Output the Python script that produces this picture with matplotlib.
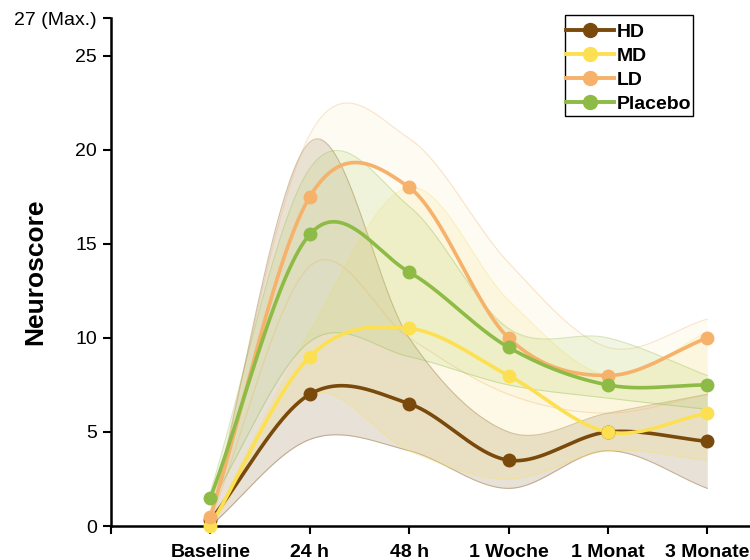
import numpy as np
import matplotlib
matplotlib.use("Agg")
import matplotlib.pyplot as plt
from matplotlib.patches import Rectangle

plt.rcParams['font.family'] = ['Liberation Sans', 'DejaVu Sans']

categories = ["Baseline", "24 h", "48 h", "1 Woche", "1 Monat", "3 Monate"]
series_names = ["HD", "MD", "LD", "Placebo"]
colors = ["#7a4a0c", "#fde052", "#f6b16b", "#8dbb45"]
fill_colors = ["#8a6a3a", "#f5dc5a", "#fbe6b0", "#a6cc55"]

hd_mean = [0.3, 7.0, 6.5, 3.5, 5.0, 4.5]
hd_upper = [0.5, 20.4, 10.0, 5.0, 6.0, 7.0]
hd_lower = [0.0, 4.6, 4.0, 2.0, 4.0, 2.0]

md_mean = [0.0, 9.0, 10.5, 8.0, 5.0, 6.0]
md_upper = [0.0, 10.3, 18.0, 12.0, 8.0, 10.3]
md_lower = [0.0, 7.0, 4.0, 2.5, 4.0, 3.5]

ld_mean = [0.5, 17.5, 18.0, 10.0, 8.0, 10.0]
ld_upper = [0.8, 20.8, 20.6, 14.0, 9.5, 11.0]
ld_lower = [0.3, 13.8, 10.0, 7.0, 6.0, 7.0]

pl_mean = [1.5, 15.5, 13.5, 9.5, 7.5, 7.5]
pl_upper = [1.8, 19.0, 17.0, 10.5, 10.0, 8.0]
pl_lower = [1.2, 9.8, 9.0, 7.5, 6.8, 6.2]

means = [hd_mean, md_mean, ld_mean, pl_mean]
uppers = [hd_upper, md_upper, ld_upper, pl_upper]
lowers = [hd_lower, md_lower, ld_lower, pl_lower]


def catmull(x, y, n_per=80):
    x = np.asarray(x, float); y = np.asarray(y, float)
    n = len(x)
    m = np.zeros(n)
    m[0] = (y[1] - y[0]) / (x[1] - x[0])
    m[-1] = (y[-1] - y[-2]) / (x[-1] - x[-2])
    for i in range(1, n - 1):
        m[i] = (y[i + 1] - y[i - 1]) / (x[i + 1] - x[i - 1])
    xs_all, ys_all = [], []
    for i in range(n - 1):
        h = x[i + 1] - x[i]
        t = np.linspace(0, 1, n_per, endpoint=(i == n - 2))
        h00 = 2 * t**3 - 3 * t**2 + 1
        h10 = t**3 - 2 * t**2 + t
        h01 = -2 * t**3 + 3 * t**2
        h11 = t**3 - t**2
        xs_all.append(x[i] + t * h)
        ys_all.append(h00 * y[i] + h10 * h * m[i] + h01 * y[i + 1] + h11 * h * m[i + 1])
    return np.concatenate(xs_all), np.concatenate(ys_all)


fig = plt.figure(figsize=(7.5, 5.6), dpi=100)
ax = fig.add_axes([0.148, 0.0607, 0.852, 0.907])

xpos = np.arange(len(categories))

fill_alphas = [0.2, 0.15, 0.14, 0.16]
for name, col, fcol, m, up, lo, fa in zip(series_names, colors, fill_colors, means, uppers, lowers, fill_alphas):
    xs, u = catmull(xpos, up)
    _, l = catmull(xpos, lo)
    l = np.maximum(l, 0)
    ax.fill_between(xs, l, u, color=fcol, alpha=fa, lw=0, zorder=1)
    ax.plot(xs, u, color=col, alpha=0.35, lw=0.8, zorder=1)
    ax.plot(xs, l, color=col, alpha=0.35, lw=0.8, zorder=1)

for name, col, m in zip(series_names, colors, means):
    xs, ys = catmull(xpos, m)
    ax.plot(xs, ys, color=col, lw=2.6, zorder=3)
    ax.plot(xpos, m, 'o', color=col, ms=9, zorder=4, clip_on=False)
    ax.plot([], [], '-o', color=col, lw=2.8, ms=10, label=name)

ax.set_xlim(-1, 5.43)
ax.set_ylim(0, 27)
ax.set_yticks([0, 5, 10, 15, 20, 25, 27])
ax.set_yticklabels(["0", "5", "10", "15", "20", "25", "27 (Max.)"], fontsize=14)
ax.set_xticks([-1] + list(xpos))
ax.set_xticklabels([""] + categories, fontsize=14, fontweight='bold')
ax.tick_params(axis='both', direction='out', length=6, width=1.5, colors='black')
ax.tick_params(axis='x', pad=7)
ax.tick_params(axis='y', pad=4)
for s in ['top', 'right']:
    ax.spines[s].set_visible(False)
for s in ['left', 'bottom']:
    ax.spines[s].set_linewidth(1.8)
ax.set_ylabel("Neuroscore", fontsize=19, fontweight='bold')
ax.yaxis.set_label_coords(-0.1, 0.5)

# legend box drawn separately to match the frame
box = Rectangle((565 / 750, 1 - 116 / 560), 128 / 750, 101 / 560,
                transform=fig.transFigure, facecolor='white',
                edgecolor='black', lw=1.0, zorder=5, clip_on=False)
ax.add_artist(box)
handles, labels = ax.get_legend_handles_labels()
leg = ax.legend(handles, labels, loc='upper left', bbox_to_anchor=(566 / 750, 1 - 23 / 560),
                bbox_transform=fig.transFigure, frameon=False,
                prop={'weight': 'bold', 'size': 14}, handlelength=2.45,
                borderpad=0, labelspacing=0.34, handletextpad=0.15, borderaxespad=0)
leg.set_zorder(6)

fig.savefig("out.png", dpi=100)
